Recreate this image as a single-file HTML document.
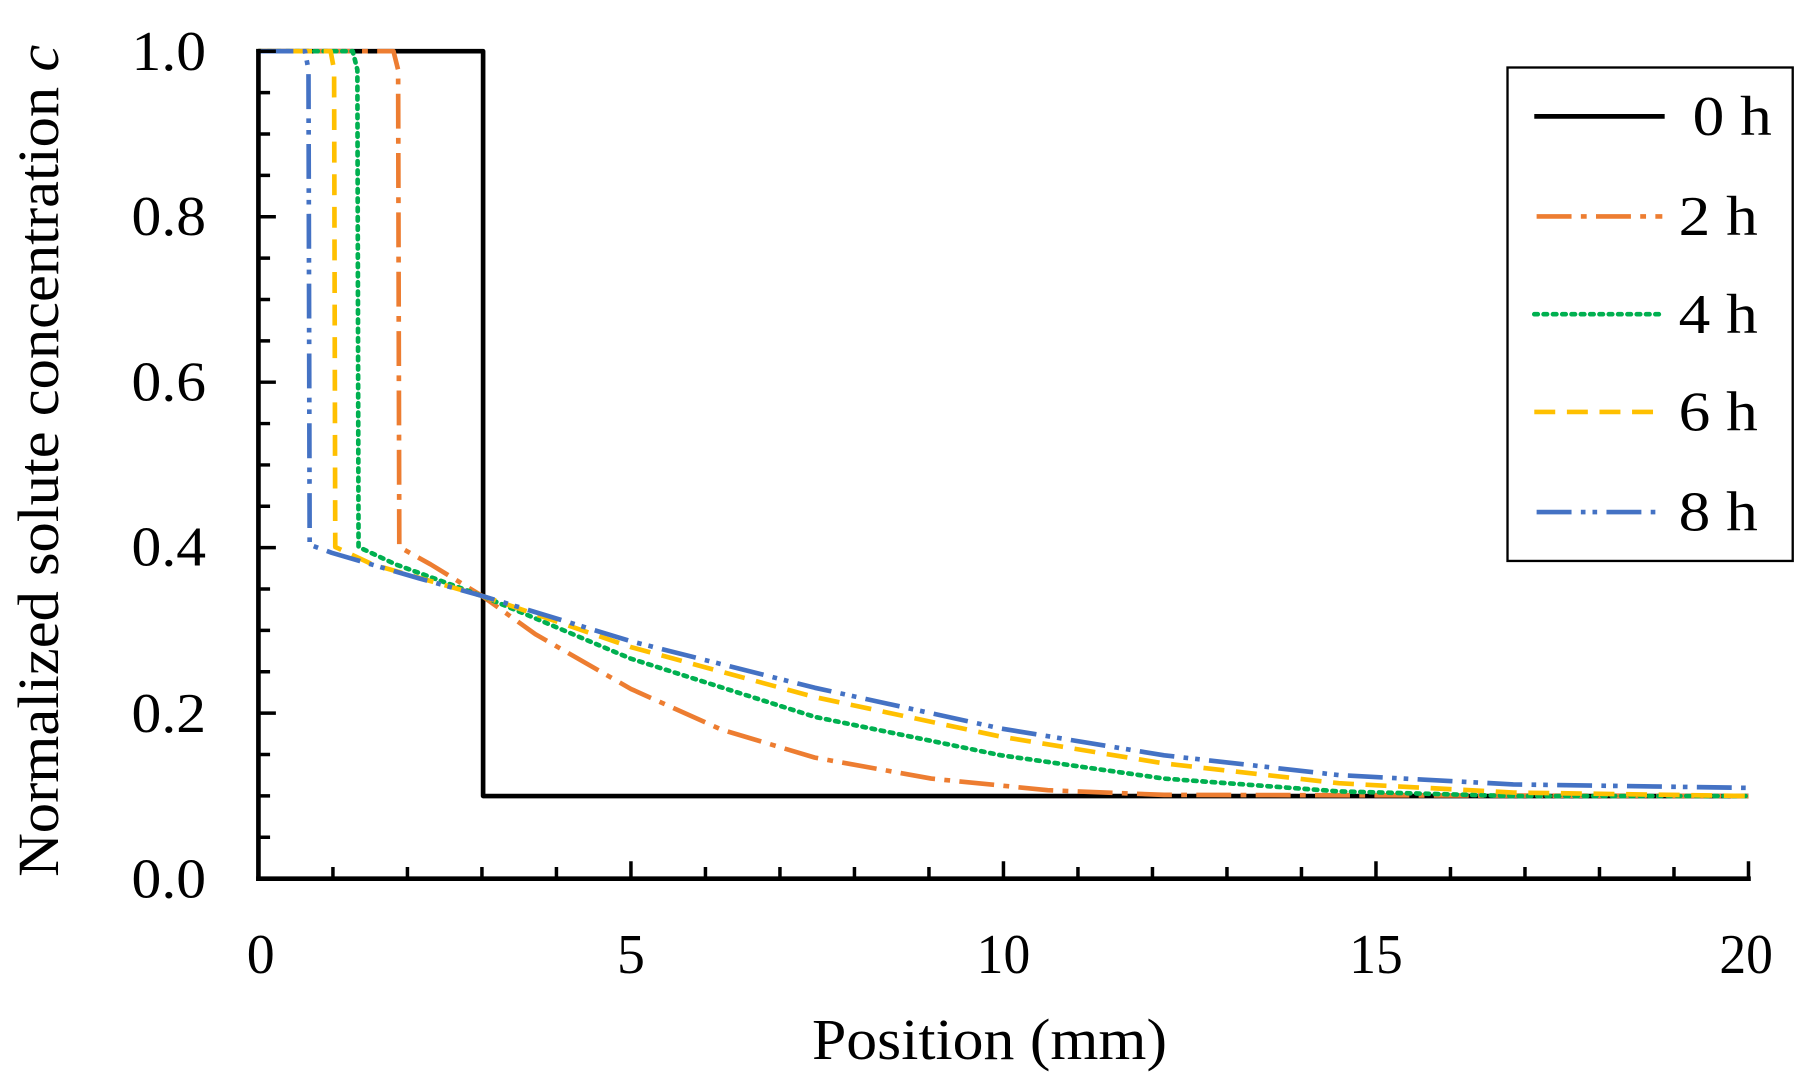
<!DOCTYPE html>
<html><head><style>html,body{margin:0;padding:0;background:#fff;}svg{display:block}</style></head>
<body>
<svg width="1816" height="1080" viewBox="0 0 1560 928" preserveAspectRatio="none" xmlns="http://www.w3.org/2000/svg" font-family="Liberation Serif, serif">
<rect width="1560" height="928" fill="#fff"/>
<g fill="none" stroke-width="4" stroke-linejoin="round">
<polyline stroke="#000" points="222,44 415,44 415,684 1502,684"/>
<polyline stroke="#ED7D31" stroke-dasharray="30 8 5 8" points="222,44 338,44 342,60 343,470 370,485 414,512 460,545 542,592 620,627 700,651 800,669 900,679 1000,683 1502,684"/>
<polyline stroke="#00B050" stroke-dasharray="3 5" stroke-linecap="round" points="222,44 303,44 307,60 308,470 340,485 414,512 542,566 700,616 860,649 1000,669 1150,680 1300,684 1502,684"/>
<polyline stroke="#FFC000" stroke-dasharray="18 10" points="222,44 284,44 287,60 288,470 320,485 414,512 542,556 700,599 860,633 1000,656 1150,673 1300,681 1502,684"/>
<polyline stroke="#4472C4" stroke-dasharray="30 8 4 6 4 8" points="222,44 262,44 265,60 266,468 285,475 360,497 414,512 542,551 700,591 860,626 1000,649 1150,666 1300,674 1502,677"/>
</g>
<g stroke="#000" stroke-width="4" fill="none">
<line x1="222" y1="42" x2="222" y2="757"/>
<line x1="220" y1="755" x2="1504" y2="755"/>
</g>
<g stroke="#000" stroke-width="3">
<path d="M286 755V745M350 755V745M414 755V745M478 755V745M542 755V740M606 755V745M670 755V745M734 755V745M798 755V745M862 755V740M926 755V745M990 755V745M1054 755V745M1118 755V745M1182 755V740M1246 755V745M1310 755V745M1374 755V745M1438 755V745M1502 755V740"/>
<path d="M222 719.45H232M222 683.9H232M222 648.35H232M222 612.8H237M222 577.25H232M222 541.7H232M222 506.15H232M222 470.6H237M222 435.05H232M222 399.5H232M222 363.95H232M222 328.4H237M222 292.85H232M222 257.3H232M222 221.75H232M222 186.2H237M222 150.65H232M222 115.1H232M222 79.55H232M222 44H237"/>
</g>
<g font-size="48" fill="#000" text-anchor="end" lengthAdjust="spacingAndGlyphs">
<text x="177" y="60" textLength="64" lengthAdjust="spacingAndGlyphs">1.0</text>
<text x="177" y="202" textLength="64" lengthAdjust="spacingAndGlyphs">0.8</text>
<text x="177" y="344" textLength="64" lengthAdjust="spacingAndGlyphs">0.6</text>
<text x="177" y="486" textLength="64" lengthAdjust="spacingAndGlyphs">0.4</text>
<text x="177" y="629" textLength="64" lengthAdjust="spacingAndGlyphs">0.2</text>
<text x="177" y="771" textLength="64" lengthAdjust="spacingAndGlyphs">0.0</text>
</g>
<g font-size="48" fill="#000" text-anchor="middle">
<text x="224" y="836">0</text>
<text x="542" y="836">5</text>
<text x="862" y="836" textLength="46" lengthAdjust="spacingAndGlyphs">10</text>
<text x="1182" y="836" textLength="46" lengthAdjust="spacingAndGlyphs">15</text>
<text x="1500" y="836" textLength="46" lengthAdjust="spacingAndGlyphs">20</text>
<text x="850" y="910" font-size="50" textLength="305" lengthAdjust="spacingAndGlyphs">Position (mm)</text>
<text transform="translate(50,396) rotate(-90)" font-size="50" textLength="715" lengthAdjust="spacingAndGlyphs">Normalized  solute concentration <tspan font-style="italic">c</tspan></text>
</g>
<rect x="1295" y="58" width="245" height="424" fill="#fff" stroke="#000" stroke-width="2"/>
<g fill="none" stroke-width="4">
<line x1="1318" y1="100" x2="1430" y2="100" stroke="#000"/>
<line x1="1320" y1="186" x2="1428" y2="186" stroke="#ED7D31" stroke-dasharray="30 8 5 8"/>
<line x1="1318" y1="270" x2="1428" y2="270" stroke="#00B050" stroke-dasharray="3 5" stroke-linecap="round"/>
<line x1="1318" y1="354" x2="1428" y2="354" stroke="#FFC000" stroke-dasharray="18 10"/>
<line x1="1320" y1="440" x2="1428" y2="440" stroke="#4472C4" stroke-dasharray="30 8 4 6 4 8"/>
</g>
<g font-size="48" fill="#000">
<text x="1454" y="116" textLength="68" lengthAdjust="spacingAndGlyphs">0 h</text>
<text x="1442" y="202" textLength="68" lengthAdjust="spacingAndGlyphs">2 h</text>
<text x="1442" y="286" textLength="68" lengthAdjust="spacingAndGlyphs">4 h</text>
<text x="1442" y="370" textLength="68" lengthAdjust="spacingAndGlyphs">6 h</text>
<text x="1442" y="456" textLength="68" lengthAdjust="spacingAndGlyphs">8 h</text>
</g>
</svg>
</body></html>
